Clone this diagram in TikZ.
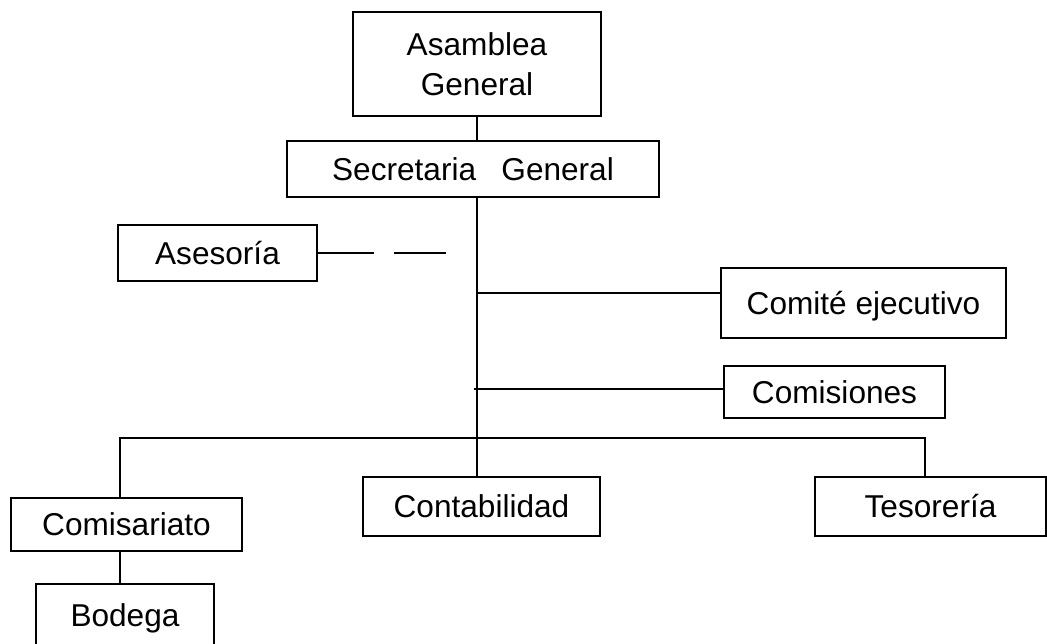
\documentclass[tikz,border=0pt]{standalone}
\usepackage{fontspec}
\setmainfont{Liberation Sans}
\tikzset{
  unit/.style={draw, rectangle, line width=1.8pt, inner sep=0pt,
    font=\fontsize{31.6}{40}\selectfont, text height=22.6pt, text depth=0pt},
  link/.style={line width=1.8pt}
}
\begin{document}
\begin{tikzpicture}[x=1pt,y=-1pt]
        % Page frame
        \fill[white] (0,0) rectangle (1047,644);
        \useasboundingbox (0,0) rectangle (1047,644);

        % Top of the chart
        \node[unit, minimum width=248pt, minimum height=104pt, align=center,
              text height=, text depth=] (asamblea) at (477,64) {Asamblea\\General};
        \node[unit, minimum width=372pt, minimum height=56pt] (secretaria) at (473,169) {Secretaria\hspace{0.8em}General};
        \node[unit, minimum width=199pt, minimum height=56pt] (asesoria) at (217.5,253) {Asesoría};

        % Side units
        \node[unit, minimum width=285pt, minimum height=70pt] (comite) at (863.5,303) {Comité ejecutivo};
        \node[unit, minimum width=221pt, minimum height=52pt] (comisiones) at (834.5,392) {Comisiones};

        % Bottom row
        \node[unit, minimum width=237pt, minimum height=59pt] (contabilidad) at (481.5,506.5) {Contabilidad};
        \node[unit, minimum width=231pt, minimum height=59pt] (tesoreria) at (930.5,506.5) {Tesorería};
        \node[unit, minimum width=231pt, minimum height=53pt] (comisariato) at (126.5,524.5) {Comisariato};
        \node[unit, minimum width=178pt, minimum height=62pt] (bodega) at (125,615) {Bodega};

        % Junction points
        \coordinate (trunk) at (477,197);
        \coordinate (jcomite) at (477,293);
        \coordinate (jcomisiones) at (474,389);
        \coordinate (barleft) at (120,438);
        \coordinate (barright) at (925,438);
        \coordinate (asesoriaend) at (446,253);

        % Connectors
        \draw[link] (asamblea.south) -- (asamblea.south |- secretaria.north);
        \draw[link] (trunk) -- (trunk |- contabilidad.north);
        \draw[link] (jcomite) -- (jcomite -| comite.west);
        \draw[link, line width=1.5pt] (jcomisiones) -- (jcomisiones -| comisiones.west);
        \draw[link, dash pattern=on 56pt off 20pt on 60pt off 20pt] (asesoria.east) -- (asesoriaend);
        \draw[link] (barleft |- comisariato.north) -- (barleft) -- (barright) -- (barright |- tesoreria.north);
        \draw[link] (barleft |- comisariato.south) -- (barleft |- bodega.north);
    \end{tikzpicture}
\end{document}
